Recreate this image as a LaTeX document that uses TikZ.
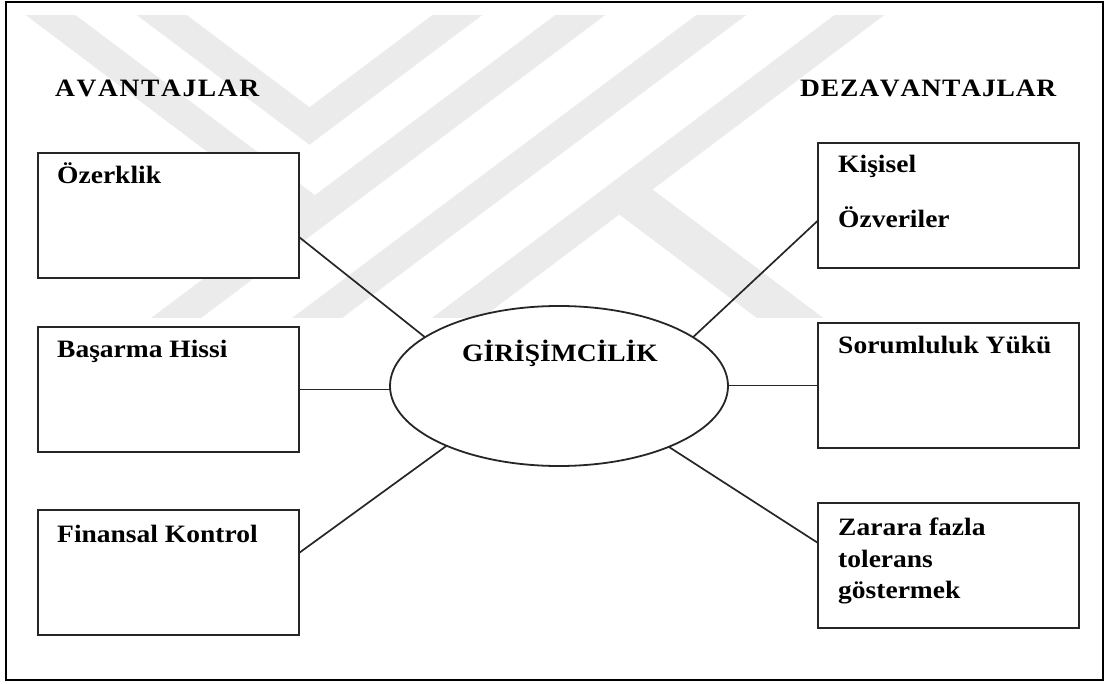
\documentclass[tikz,border=0pt]{standalone}
\usepackage{fontspec}
\setmainfont{Liberation Serif}[FakeStretch=1.1]
\usetikzlibrary{shapes.geometric}
\begin{document}
\begin{tikzpicture}[x=1pt,y=-1pt,
  boxnode/.style={draw=black!85,line width=2.2pt,fill=white,minimum width=261pt,minimum height=125pt,anchor=north west,inner sep=0pt,outer sep=0pt},
  lbl/.style={anchor=base west,inner sep=0pt,font=\fontsize{25}{30}\selectfont\bfseries},
  conn/.style={draw=black!85,line width=1.7pt},
  wm/.style={draw=black!8,line width=30pt}]
\useasboundingbox (0,0) rectangle (1108,684);
% watermark
\begin{scope}
  \clip (24,16) rectangle (935,318);
  \draw[wm] (12,-14) -- (315,214);
  \draw[wm] (619,-14) -- (136,348);
  \draw[wm,line join=miter] (123,-14) -- (309.5,126) -- (496,-14);
  \draw[wm] (760,-14) -- (277,348);
  \draw[wm] (898,-14) -- (417,348);
  \draw[wm,line width=40pt] (620,190) -- (830,348);
\end{scope}
% frame
\draw[line width=2.8pt] (6,2) rectangle (1103,680);
% boxes
\node[boxnode] (b1) at (38,153) {};
\node[boxnode] (b2) at (38,327) {};
\node[boxnode] (b3) at (38,510) {};
\node[boxnode] (b4) at (818,143) {};
\node[boxnode] (b5) at (818,323) {};
\node[boxnode] (b6) at (818,503) {};
\node[ellipse,draw=black!85,line width=1.8pt,fill=white,minimum width=338pt,minimum height=160pt,inner sep=0pt,outer sep=0pt] (e) at (559,386) {};
% connectors
\draw[conn] ([yshift=-21.5pt]b1.east) -- (e.160);
\draw[conn] (b2.east) -- (b2.east -| e.west);
\draw[conn] ([yshift=19.5pt]b3.east) -- (e.208);
\draw[conn] ([yshift=-15pt]b4.west) -- (e.20);
\draw[conn] (b5.west) -- (b5.west -| e.east);
\draw[conn] ([yshift=22.5pt]b6.west) -- (e.331);
% labels
\node[lbl] (tav) at (55,97) {\addfontfeatures{Kerning=Off,LetterSpace=6.5}AVANTAJLAR};
\node[lbl] (tdez) at (800,97) {\addfontfeatures{Kerning=Off,LetterSpace=3.4}DEZAVANTAJLAR};
\node[lbl] (t1) at (57,184) {Özerklik};
\node[lbl] (t2) at (57,358) {Başarma Hissi};
\node[lbl] (t3) at (57,542) {Finansal Kontrol};
\node[lbl] (t4a) at (838,173) {Kişisel};
\node[lbl] (t4b) at (838,228) {Özveriler};
\node[lbl] (t5) at (838,354) {Sorumluluk Yükü};
\node[lbl] (t6a) at (838,535) {Zarara fazla};
\node[lbl] (t6b) at (838,567) {tolerans};
\node[lbl] (t6c) at (838,598) {göstermek};
\node[lbl] (tc) at (462,362) {GİRİŞİMCİLİK};
\end{tikzpicture}
\end{document}
